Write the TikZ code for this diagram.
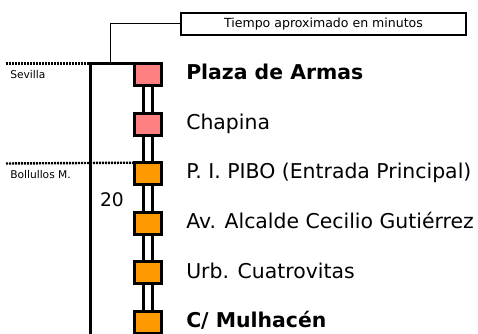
\documentclass[tikz,border=0pt]{standalone}
\usepackage{fontspec}
\setmainfont{DejaVu Sans}
\usetikzlibrary{backgrounds}
\definecolor{rosa}{HTML}{FF8080}
\definecolor{naranja}{HTML}{FF9900}
\begin{document}
\begin{tikzpicture}[x=0.75pt,y=-0.75pt,
    parada/.style={draw=black,line width=2.25pt,minimum width=20.25pt,minimum height=16.5pt,inner sep=0pt,outer sep=0pt},
    nombre/.style={anchor=base west,inner sep=0pt,font=\fontsize{15.3}{18}\selectfont},
    zona/.style={anchor=west,inner sep=0pt,font=\fontsize{8}{10}\selectfont},
    tramo/.style={line width=2.25pt,double=white,double distance=4.5pt},
    limite/.style={line width=1.8pt,dash pattern=on 1.5pt off 0.75pt}]
  \clip (0,0) rectangle (478,334);
  % paradas
  \node[parada,fill=rosa]    (p1) at (148,74.5) {};
  \node[parada,fill=rosa]    (p2) at (148,124.1) {};
  \node[parada,fill=naranja] (p3) at (148,173.7) {};
  \node[parada,fill=naranja] (p4) at (148,223.3) {};
  \node[parada,fill=naranja] (p5) at (148,272.9) {};
  \node[parada,fill=naranja] (p6) at (148,322.5) {};
  \node[nombre] (n1) at (186,79.8) {\bfseries Plaza de Armas};
  \node[nombre] (n2) at (186,129.4) {Chapina};
  \node[nombre] (n3) at (186,179.0) {P. I. PIBO (Entrada Principal)};
  \node[nombre] (n4) at (186,228.6) {Av. Alcalde Cecilio Gutiérrez};
  \node[nombre] (n5) at (186,278.2) {Urb. Cuatrovitas};
  \node[nombre] (n6) at (186,327.8) {\bfseries C/ Mulhacén};
  \begin{scope}[on background layer]
    \draw[tramo] (p1) -- (p2);
    \draw[tramo] (p2) -- (p3);
    \draw[tramo] (p3) -- (p4);
    \draw[tramo] (p4) -- (p5);
    \draw[tramo] (p5) -- (p6);
  \end{scope}
  % escala de tiempo
  \coordinate (arriba) at (90,63.5);
  \coordinate (abajo) at (90,340);
  \coordinate (sev) at (6,63.5);
  \coordinate (bol) at (6,163.5);
  \coordinate (codo) at (110,63.5);
  \draw[line width=2.25pt] (p1.north west) -- (arriba) -- (abajo);
  \draw[limite] (sev) -- (arriba);
  \draw[limite] (bol) -- (p3.north west);
  \node[zona] (sevilla) at (10,75) {Sevilla};
  \node[zona] (bollullos) at (10,175) {Bollullos M.};
  \node[font=\fontsize{14}{16}\selectfont,inner sep=0pt] (min) at (112,200) {20};
  \node[draw=black,line width=1.5pt,minimum width=213.75pt,minimum height=16.5pt,inner sep=0pt,
        font=\fontsize{9.4}{11}\selectfont] (tiempo) at (323.5,24) {Tiempo aproximado en minutos};
  \draw[line width=0.75pt] (tiempo.west) -| (codo);
\end{tikzpicture}
\end{document}
